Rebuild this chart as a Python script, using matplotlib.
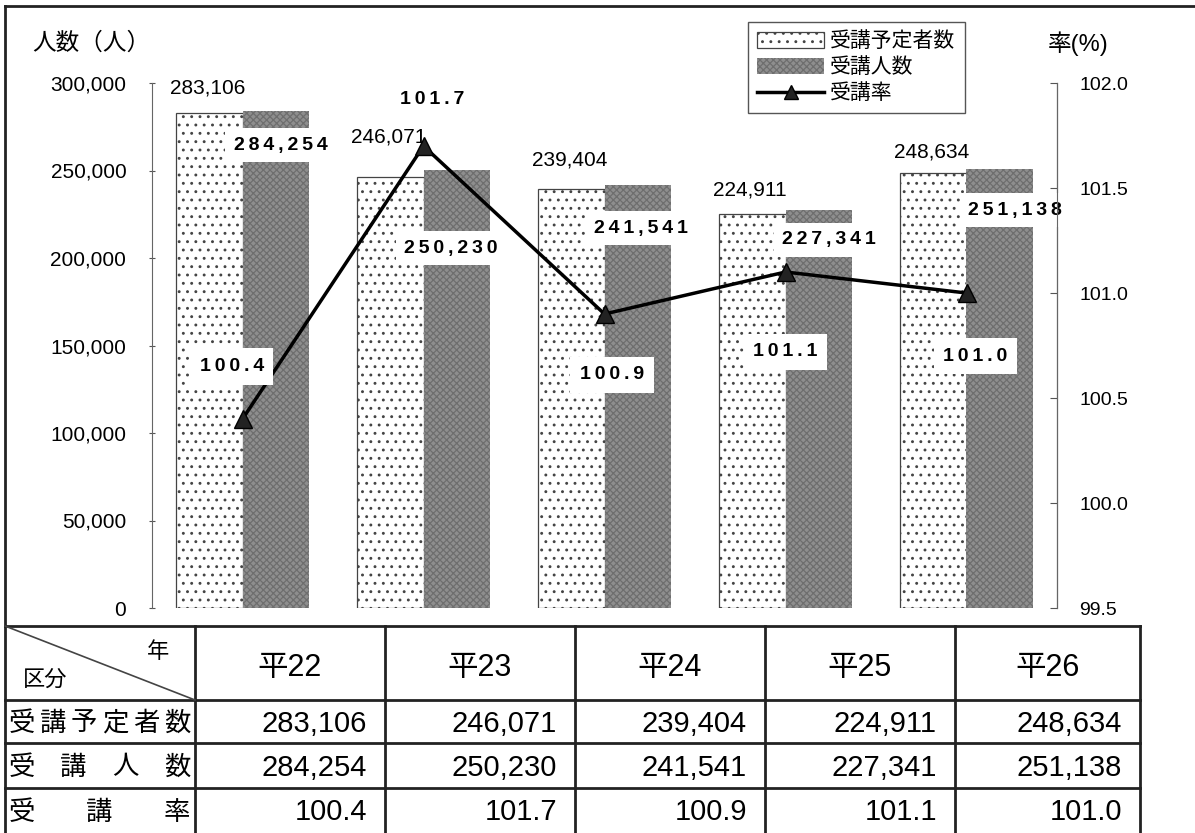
import matplotlib
matplotlib.use("Agg")
import matplotlib.pyplot as plt
import numpy as np
from matplotlib.lines import Line2D
from matplotlib.patches import Patch

plt.rcParams["font.family"] = ["Liberation Sans", "Noto Sans CJK JP", "DejaVu Sans"]
plt.rcParams["hatch.linewidth"] = 0.9

# データ
years = ["平22", "平23", "平24", "平25", "平26"]
planned = [283106, 246071, 239404, 224911, 248634]
actual = [284254, 250230, 241541, 227341, 251138]
rate = [100.4, 101.7, 100.9, 101.1, 101.0]
row_names = ["受講予定者数", "受講人数", "受講率"]

# ラベル位置
plan_lab_y = [297000, 269000, 256000, 238800, 260500]
act_lab_y = [264500, 205700, 217100, 210300, 227400]
act_lab_dx = [0.21, 0.15, 0.20, 0.24, 0.27]
rate_lab = [(-0.06, 100.65), (1.05, 101.92), (2.04, 100.61), (3.0, 100.72), (4.05, 100.70)]

W, H = 1195, 833
fig = plt.figure(figsize=(W / 100, H / 100), dpi=100)

ax = fig.add_axes([152 / W, 1 - 608 / H, (1057 - 152) / W, (608 - 83) / H])
ax2 = ax.twinx()

dot_style = dict(facecolor="white", edgecolor="#444444", hatch="..", linewidth=0.9)
gray_style = dict(facecolor="#8e8e8e", edgecolor="#6e6e6e", hatch="xxxxx", linewidth=0.0)

x = np.arange(len(years))
bw = 0.37
ax.bar(x - bw / 2, planned, bw, zorder=2, **dot_style)
ax.bar(x + bw / 2, actual, bw, zorder=2, **gray_style)

thin = "\u2009"
for i, v in enumerate(planned):
    ax.text(x[i] - bw - 0.03, plan_lab_y[i], f"{v:,}", ha="left", va="center",
            fontsize=15, zorder=5)
for i, v in enumerate(actual):
    ax.text(x[i] + act_lab_dx[i], act_lab_y[i], thin.join(f"{v:,}"), ha="center",
            va="center", fontsize=14, fontweight="bold", zorder=5,
            bbox=dict(facecolor="white", edgecolor="none", pad=6))

ax.set_xlim(-0.5, len(years) - 0.5)
ax.set_ylim(0, 300000)
ax.set_yticks(np.arange(0, 300001, 50000))
ax.set_yticklabels([f"{v:,}" for v in range(0, 300001, 50000)], fontsize=15)
ax.tick_params(axis="y", length=5, direction="inout", pad=16, color="#555555")
ax.set_xticks([])
for s in ["top", "bottom"]:
    ax.spines[s].set_visible(False)
    ax2.spines[s].set_visible(False)
ax.spines["left"].set_color("#666666")
ax2.spines["right"].set_color("#666666")
ax2.spines["left"].set_visible(False)

ax2.plot(x, rate, color="black", linewidth=2.5, marker="^", markersize=13,
         markerfacecolor="#222222", zorder=4)
for (dx, dy), r in zip(rate_lab, rate):
    box = None if r == max(rate) else dict(facecolor="white", edgecolor="none", pad=7)
    ax2.text(dx, dy, thin.join(f"{r:.1f}"), ha="center", va="center", fontsize=14,
             fontweight="bold", zorder=6, bbox=box)
ax2.set_ylim(99.5, 102.0)
ax2.set_yticks(np.arange(99.5, 102.01, 0.5))
ax2.set_yticklabels([f"{v:.1f}" for v in np.arange(99.5, 102.01, 0.5)], fontsize=14)
ax2.tick_params(axis="y", length=5, direction="in", pad=16, color="#555555")
ax2.set_zorder(ax.get_zorder() + 1)
ax2.patch.set_visible(False)

fig.text(32 / W, 1 - 44 / H, "人数（人）", fontsize=17, va="center", ha="left")
fig.text(1048 / W, 1 - 44 / H, "率(%)", fontsize=17, va="center", ha="left")

handles = [
    Patch(**dot_style),
    Patch(**gray_style),
    Line2D([0], [0], color="black", linewidth=2.5, marker="^", markersize=10,
           markerfacecolor="#222222"),
]
leg = fig.legend(handles, row_names, loc="upper left", bbox_to_anchor=(748 / W, 1 - 22 / H),
                 borderaxespad=0, fontsize=15, frameon=True, fancybox=False, framealpha=1,
                 edgecolor="#555555", handlelength=3.2, handleheight=0.8,
                 labelspacing=0.3, borderpad=0.45, handletextpad=0.3)
leg.get_frame().set_linewidth(1.0)

# 表（ピクセル座標で描画）
tb = fig.add_axes([0, 0, 1, 1], zorder=-1)
tb.set_xlim(0, W)
tb.set_ylim(H, 0)
tb.axis("off")
lc = "#222222"
# 外枠
tb.plot([5, 5], [6, H], color=lc, lw=2)
tb.plot([5, W], [6, 6], color=lc, lw=2)
col_x = [5, 195, 385, 575, 765, 955, 1140]
row_y = [626, 700, 743, 788, H]
for yy in row_y[:-1]:
    tb.plot([5, col_x[-1]], [yy, yy], color=lc, lw=2)
for xx in col_x[1:]:
    tb.plot([xx, xx], [row_y[0], H], color=lc, lw=2)
tb.plot([5, 195], [626, 700], color="#444444", lw=1.2)
tb.text(158, 652, "年", fontsize=16, ha="center", va="center")
tb.text(45, 680, "区分", fontsize=16, ha="center", va="center")

for j, yname in enumerate(years):
    cx = (col_x[j + 1] + col_x[j + 2]) / 2
    tb.text(cx, 668, yname, fontsize=22, ha="center", va="center")

cy = [(row_y[k] + row_y[k + 1]) / 2 + 2 for k in range(1, 4)]
# 行見出し（均等割り）
for k, name in enumerate(row_names):
    n = len(name)
    xs = np.linspace(22, 177, n)
    for ch, xx in zip(name, xs):
        tb.text(xx, cy[k], ch, fontsize=19, ha="center", va="center")

rows = [[f"{v:,}" for v in planned], [f"{v:,}" for v in actual], [f"{v:.1f}" for v in rate]]
for k, vals in enumerate(rows):
    for j, s in enumerate(vals):
        tb.text(col_x[j + 2] - 18, cy[k], s, fontsize=21, ha="right", va="center")

fig.savefig("out.png", dpi=100)
